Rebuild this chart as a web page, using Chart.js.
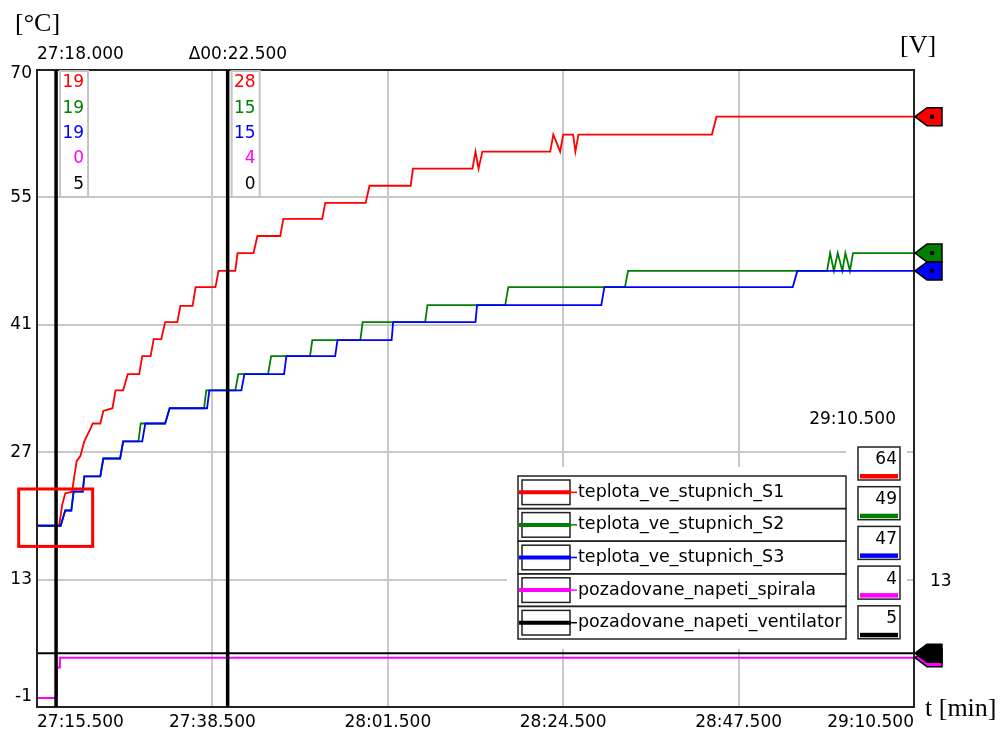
<!DOCTYPE html>
<html>
<head>
<meta charset="utf-8">
<script src="https://cdn.jsdelivr.net/npm/chart.js@4.4.0/dist/chart.umd.min.js"></script>
<style>
  html, body { margin: 0; padding: 0; background: #fff; }
  canvas { display: block; }
</style>
</head>
<body>
<canvas id="chart" width="1003" height="733"></canvas>
<script>
// time in seconds (27:15.500 = 1635.5 s), temperatures in °C, voltages in V
const seriesNames = ['teplota_ve_stupnich_S1', 'teplota_ve_stupnich_S2', 'teplota_ve_stupnich_S3',
                     'pozadovane_napeti_spirala', 'pozadovane_napeti_ventilator'];
const seriesColors = ['#ff0000', '#008000', '#0000ff', '#ff00ff', '#000000'];

const s1Time = [1635.5, 1638.4, 1638.8, 1639.2, 1640.1, 1640.3, 1640.7, 1641.2, 1641.7, 1642.5, 1642.8, 1643.8, 1644.2, 1645.4, 1645.8, 1646.8, 1647.4, 1648.9, 1649.3, 1650.4, 1650.8, 1651.8, 1652.3, 1653.9, 1654.3, 1655.9, 1656.3, 1658.9, 1659.3, 1661.5, 1661.8, 1663.9, 1664.4, 1667.4, 1667.8, 1672.9, 1673.3, 1678.6, 1679.1, 1684.5, 1684.8, 1692.6, 1693.0, 1693.4, 1693.9, 1702.8, 1703.2, 1704.1, 1704.5, 1705.8, 1706.1, 1706.5, 1724.0, 1724.6, 1750.5];
const s1Temp = [19.2, 19.2, 21.5, 22.8, 23.0, 24.2, 26.4, 27.0, 28.6, 30.0, 30.6, 30.6, 32.0, 32.3, 34.3, 34.3, 36.1, 36.1, 38.1, 38.1, 40.0, 40.0, 41.9, 41.9, 43.7, 43.7, 45.8, 45.8, 47.6, 47.6, 49.6, 49.6, 51.5, 51.5, 53.4, 53.4, 55.2, 55.2, 57.1, 57.1, 59.0, 59.0, 60.9, 59.0, 60.9, 60.9, 62.8, 60.9, 62.8, 62.8, 60.9, 62.8, 62.8, 64.8, 64.8];

const s2Time = [1635.5, 1638.6, 1639.2, 1640.0, 1640.3, 1641.5, 1641.7, 1643.8, 1644.2, 1646.4, 1646.8, 1648.8, 1649.1, 1652.3, 1652.9, 1657.4, 1657.7, 1661.5, 1661.9, 1665.8, 1666.2, 1671.3, 1671.6, 1677.9, 1678.2, 1686.4, 1686.7, 1696.9, 1697.3, 1712.6, 1713.0, 1739.1, 1739.5, 1740.0, 1740.5, 1741.1, 1741.5, 1742.1, 1742.5, 1750.5];
const s2Temp = [19.2, 19.2, 20.9, 20.9, 23.0, 23.0, 24.7, 24.7, 26.7, 26.7, 28.6, 28.6, 30.6, 30.6, 32.3, 32.3, 34.3, 34.3, 36.1, 36.1, 38.1, 38.1, 39.9, 39.9, 41.9, 41.9, 43.8, 43.8, 45.8, 45.8, 47.6, 47.6, 49.6, 47.6, 49.6, 47.6, 49.6, 47.6, 49.6, 49.6];

const s3Time = [1635.5, 1638.6, 1639.2, 1640.0, 1640.3, 1641.5, 1641.7, 1643.8, 1644.2, 1646.4, 1646.8, 1649.3, 1649.7, 1652.3, 1652.9, 1657.8, 1658.1, 1662.3, 1662.7, 1667.9, 1668.2, 1674.6, 1674.9, 1682.0, 1682.2, 1693.0, 1693.2, 1709.5, 1709.9, 1734.6, 1735.2, 1750.5];
const s3Temp = [19.2, 19.2, 20.9, 20.9, 23.0, 23.0, 24.7, 24.7, 26.7, 26.7, 28.6, 28.6, 30.6, 30.6, 32.3, 32.3, 34.3, 34.3, 36.1, 36.1, 38.1, 38.1, 39.9, 39.9, 41.9, 41.9, 43.8, 43.8, 45.8, 45.8, 47.6, 47.6];

const spiralTime = [1635.5, 1638.0, 1638.1, 1638.4, 1638.5, 1750.5];
const spiralVolt = [0, 0, 3.4, 3.4, 4.5, 4.5];

const ventTime = [1635.5, 1750.5];
const ventVolt = [5, 5];

const xTicks = [1635.5, 1658.5, 1681.5, 1704.5, 1727.5, 1750.5];
const yTicks = [-1, 13.2, 27.4, 41.6, 55.8, 70];
const yTickLabels = ['-1', '13', '27', '41', '55', '70'];
const vTicks = [13.2];
const vTickLabels = ['13'];

const cursorTimes = [1638.0, 1660.5];
const highlightTime = [1633.1, 1642.8];
const highlightTemp = [16.9, 23.3];

const allTimes = [s1Time, s2Time, s3Time, spiralTime, ventTime];
const allValues = [s1Temp, s2Temp, s3Temp, spiralVolt, ventVolt];
const axisIds = ['y', 'y', 'y', 'yV', 'yV'];
const drawOrder = [2, 1, 0, 4, 3];   // blue over green

const uiFont = '17px "DejaVu Sans"';
const legendFont = '17.5px "DejaVu Sans"';
const serifFont = '26px "Liberation Serif"';

function fmtTime(t) {
    const m = Math.floor(t / 60 + 1e-9);
    const s = t - m * 60;
    return String(m).padStart(2, '0') + ':' + s.toFixed(3).padStart(6, '0');
}

// value of a series at time t (linear between stored points)
function valueAt(times, vals, t) {
    for (let i = 1; i < times.length; i++) {
        if (t <= times[i]) {
            const f = (t - times[i - 1]) / (times[i] - times[i - 1]);
            return vals[i - 1] + f * (vals[i] - vals[i - 1]);
        }
    }
    return vals[vals.length - 1];
}

const datasets = seriesNames.map((name, i) => ({
    label: name,
    data: allTimes[i].map((t, k) => ({ x: t, y: allValues[i][k] })),
    borderColor: seriesColors[i],
    borderWidth: i >= 3 ? 2 : 1.8,
    pointRadius: 0,
    fill: false,
    tension: 0,
    yAxisID: axisIds[i],
    order: drawOrder[i]
}));

// everything the scope draws around the plot: cursors, legend, value boxes, markers
const scopeDecor = {
    id: 'scopeDecor',
    afterDraw(chart) {
        const { ctx, chartArea: a, scales } = chart;
        const x = scales.x, y = scales.y, yv = scales.yV;
        const scaleOf = i => (axisIds[i] === 'y' ? y : yv);
        ctx.save();

        // white backing behind legend and value boxes
        ctx.fillStyle = '#fff';
        ctx.fillRect(507, 467, 350, 182);
        ctx.fillRect(846, 440, 61, 209);

        // plot frame
        ctx.strokeStyle = '#222';
        ctx.lineWidth = 2;
        ctx.strokeRect(a.left, a.top, a.right - a.left, a.bottom - a.top);

        // cursors
        ctx.font = uiFont;
        ctx.textBaseline = 'middle';
        cursorTimes.forEach((t, idx) => {
            const px = x.getPixelForValue(t);
            ctx.strokeStyle = '#000';
            ctx.lineWidth = 3.5;
            ctx.beginPath();
            ctx.moveTo(px, a.top);
            ctx.lineTo(px, a.bottom);
            ctx.stroke();

            const label = idx === 0 ? fmtTime(t) : '\u0394' + fmtTime(t - cursorTimes[0]);
            ctx.fillStyle = '#000';
            ctx.textAlign = 'left';
            ctx.fillText(label, Math.max(a.left, px - 39), 55);

            const bx = px + 4, bw = 28, bh = 126;
            ctx.fillStyle = '#fff';
            ctx.fillRect(bx, a.top + 1, bw, bh);
            ctx.strokeStyle = '#c4c4c4';
            ctx.lineWidth = 2;
            ctx.strokeRect(bx, a.top + 1, bw, bh);
            ctx.textAlign = 'right';
            seriesNames.forEach((_, i) => {
                let v = valueAt(allTimes[i], allValues[i], t);
                if (idx > 0) v -= valueAt(allTimes[i], allValues[i], cursorTimes[0]);
                ctx.fillStyle = seriesColors[i];
                ctx.fillText(String(Math.trunc(v + 1e-9)), bx + bw - 4, a.top + 13 + i * 25.3);
            });
        });

        // highlighted region
        ctx.strokeStyle = '#ff0000';
        ctx.lineWidth = 3;
        const hx0 = x.getPixelForValue(highlightTime[0]), hx1 = x.getPixelForValue(highlightTime[1]);
        const hy0 = y.getPixelForValue(highlightTemp[1]), hy1 = y.getPixelForValue(highlightTemp[0]);
        ctx.strokeRect(hx0, hy0, hx1 - hx0, hy1 - hy0);

        // legend
        const lgLeft = 518, lgTop = 476, lgW = 328, rowH = 32.6;
        ctx.font = legendFont;
        seriesNames.forEach((name, i) => {
            const top = lgTop + i * rowH, mid = top + rowH / 2;
            ctx.strokeStyle = '#222';
            ctx.lineWidth = 1.5;
            ctx.strokeRect(lgLeft, top, lgW, rowH);
            ctx.strokeRect(lgLeft + 4, top + 4, 48, rowH - 8);
            ctx.strokeStyle = seriesColors[i];
            ctx.lineWidth = 4;
            ctx.beginPath();
            ctx.moveTo(lgLeft + 1, mid);
            ctx.lineTo(lgLeft + 53, mid);
            ctx.stroke();
            ctx.lineWidth = 1.5;
            ctx.beginPath();
            ctx.moveTo(lgLeft + 53, mid);
            ctx.lineTo(lgLeft + 59, mid);
            ctx.stroke();
            ctx.fillStyle = '#000';
            ctx.textAlign = 'left';
            ctx.fillText(name, lgLeft + 60, mid);
        });
        ctx.font = uiFont;

        // last values at the right end
        const vbLeft = 858, vbTop = 447, vbW = 42, vbH = 33, vbPitch = 39.7;
        ctx.fillStyle = '#000';
        ctx.textAlign = 'right';
        ctx.fillText(fmtTime(x.max), 896, 420);
        seriesNames.forEach((_, i) => {
            const top = vbTop + i * vbPitch;
            const vals = allValues[i];
            ctx.strokeStyle = '#222';
            ctx.lineWidth = 1.5;
            ctx.strokeRect(vbLeft, top, vbW, vbH);
            ctx.fillStyle = seriesColors[i];
            ctx.fillRect(vbLeft + 2, top + vbH - 6, vbW - 4, 4.5);
            ctx.fillStyle = '#000';
            ctx.fillText(String(Math.trunc(vals[vals.length - 1] + 1e-9)), vbLeft + vbW - 3, top + 13);
        });

        // end markers on the right edge
        [3, 4, 0, 1, 2].forEach(i => {
            const vals = allValues[i];
            const py = scaleOf(i).getPixelForValue(vals[vals.length - 1]);
            const r = a.right;
            ctx.beginPath();
            ctx.moveTo(r + 1, py);
            ctx.lineTo(r + 13, py - 9);
            ctx.lineTo(r + 28, py - 9);
            ctx.lineTo(r + 28, py + 9);
            ctx.lineTo(r + 13, py + 9);
            ctx.closePath();
            ctx.fillStyle = seriesColors[i];
            ctx.fill();
            ctx.strokeStyle = '#000';
            ctx.lineWidth = 1.5;
            ctx.stroke();
            ctx.beginPath();
            ctx.arc(r + 18, py, 2.3, 0, Math.PI * 2);
            ctx.fillStyle = '#000';
            ctx.fill();
        });

        // tick labels of both value axes
        ctx.fillStyle = '#000';
        ctx.textAlign = 'right';
        yTicks.forEach((v, i) => {
            const py = Math.min(Math.max(y.getPixelForValue(v), a.top + 4), a.bottom - 10);
            ctx.fillText(yTickLabels[i], a.left - 5, py);
        });
        ctx.textAlign = 'left';
        vTicks.forEach((v, i) => {
            ctx.fillText(vTickLabels[i], a.right + 16, yv.getPixelForValue(v) + 2);
        });

        // axis titles
        ctx.font = serifFont;
        ctx.fillText('[\u00b0C]', 15, 24);
        ctx.fillText('[V]', 900, 46);
        ctx.fillText('t [min]', 925, 709);

        ctx.restore();
    }
};

const gridStyle = { color: '#c8c8c8', lineWidth: 2, drawTicks: false };

new Chart(document.getElementById('chart'), {
    type: 'line',
    data: { datasets: datasets },
    options: {
        responsive: false,
        devicePixelRatio: 1,
        animation: false,
        layout: { padding: { top: 70, left: 0, right: 0, bottom: 0 } },
        plugins: { legend: { display: false }, tooltip: { enabled: false } },
        scales: {
            x: {
                type: 'linear',
                min: xTicks[0],
                max: xTicks[xTicks.length - 1],
                afterBuildTicks: s => { s.ticks = xTicks.map(v => ({ value: v })); },
                afterFit: s => { s.height = 26; },
                grid: gridStyle,
                border: { display: false },
                ticks: {
                    align: 'inner',
                    autoSkip: false,
                    maxRotation: 0,
                    padding: 5,
                    color: '#000',
                    font: { family: 'DejaVu Sans', size: 17 },
                    callback: v => fmtTime(v)
                }
            },
            y: {
                min: yTicks[0],
                max: yTicks[yTicks.length - 1],
                afterBuildTicks: s => { s.ticks = yTicks.map(v => ({ value: v })); },
                afterFit: s => { s.width = 37; },
                grid: gridStyle,
                border: { display: false },
                ticks: { display: false }
            },
            yV: {
                position: 'right',
                min: yTicks[0],
                max: yTicks[yTicks.length - 1],
                afterFit: s => { s.width = 89; },
                grid: { display: false },
                border: { display: false },
                ticks: { display: false }
            }
        }
    },
    plugins: [scopeDecor]
});
</script>
</body>
</html>
